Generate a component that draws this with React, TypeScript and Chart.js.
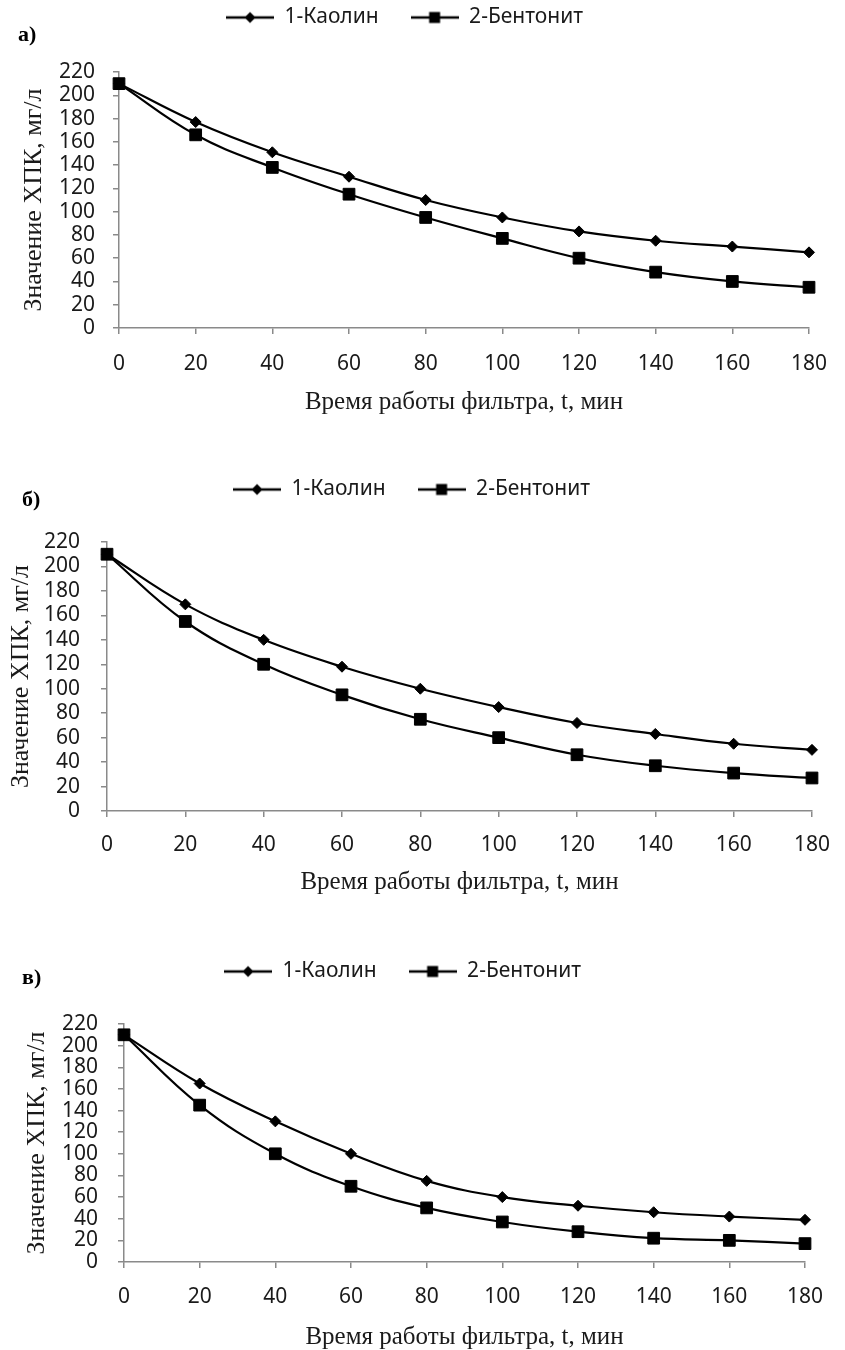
import React, { useEffect, useRef } from 'react';
import { Chart, registerables } from 'chart.js';

Chart.register(...registerables);

// ---- data ----
const minutes = [0, 20, 40, 60, 80, 100, 120, 140, 160, 180];
const seriesNames = ['1-Каолин', '2-Бентонит'];
const panelLabels = ['а)', 'б)', 'в)'];
const xTitle = 'Время работы фильтра, t, мин';
const yTitle = 'Значение ХПК, мг/л';

const kaolinA = [210, 177, 151, 130, 110, 95, 83, 75, 70, 65];
const bentonitA = [210, 166, 138, 115, 95, 77, 60, 48, 40, 35];
const kaolinB = [210, 169, 140, 118, 100, 85, 72, 63, 55, 50];
const bentonitB = [210, 155, 120, 95, 75, 60, 46, 37, 31, 27];
const kaolinV = [210, 165, 130, 100, 75, 60, 52, 46, 42, 39];
const bentonitV = [210, 145, 100, 70, 50, 37, 28, 22, 20, 17];

const yMin = 0;
const yMax = 220;
const yStep = 20;
const xMin = 0;
const xMax = 180;
const xStep = 20;

// ---- layout (per panel) ----
type PanelLayout = {
  top: number;
  height: number;
  left: number;
  right: number;
  chartTop: number;
  chartBottom: number;
  yTitleX: number;
  xTitleMid: number;
  xTickPad: number;
  yTickPad: number;
  labelTop: number;
  labelLeft: number;
};

const layouts: PanelLayout[] = [
  { top: 0, height: 440, left: 119, right: 809, chartTop: 72, chartBottom: 328, yTitleX: 34, xTitleMid: 402, xTickPad: 17, yTickPad: 18, labelTop: 23, labelLeft: 18 },
  { top: 472, height: 440, left: 107, right: 823, chartTop: 70, chartBottom: 339, yTitleX: 21, xTitleMid: 410, xTickPad: 15, yTickPad: 21, labelTop: 488, labelLeft: 22 },
  { top: 954, height: 396, left: 124, right: 805, chartTop: 70, chartBottom: 308, yTitleX: 37, xTitleMid: 383, xTickPad: 16, yTickPad: 20, labelTop: 966, labelLeft: 22 },
];

const panelData = [
  [kaolinA, bentonitA],
  [kaolinB, bentonitB],
  [kaolinV, bentonitV],
];

const W = 845;
const SANS = "'Noto Sans', 'Open Sans', sans-serif";
const SERIF = "'Liberation Serif', 'Times New Roman', serif";
const AXIS = '#8a8a8a';
const TEXT = '#1a1a1a';

function makeLegendIcon(kind: 'diamond' | 'square'): HTMLCanvasElement {
  const c = document.createElement('canvas');
  c.width = 48;
  c.height = 16;
  const ctx = c.getContext('2d')!;
  ctx.strokeStyle = '#000';
  ctx.lineWidth = 2.5;
  ctx.beginPath();
  ctx.moveTo(0, 8);
  ctx.lineTo(48, 8);
  ctx.stroke();
  ctx.fillStyle = '#000';
  if (kind === 'diamond') {
    ctx.beginPath();
    ctx.moveTo(24, 2.5);
    ctx.lineTo(29.5, 8);
    ctx.lineTo(24, 13.5);
    ctx.lineTo(18.5, 8);
    ctx.closePath();
    ctx.fill();
  } else {
    ctx.fillRect(18.5, 2.5, 11, 11);
  }
  return c;
}

function Panel({ idx }: { idx: number }) {
  const ref = useRef<HTMLCanvasElement | null>(null);
  const L = layouts[idx];
  const [kaolin, bentonit] = panelData[idx];

  useEffect(() => {
    if (!ref.current) return;
    const icons = [makeLegendIcon('diamond'), makeLegendIcon('square')];
    const tickFont = { family: SANS, size: 21 };
    const chart = new Chart(ref.current, {
      type: 'line',
      data: {
        datasets: [
          {
            label: seriesNames[0],
            data: minutes.map((m, i) => ({ x: m, y: kaolin[i] })),
            borderColor: '#000',
            backgroundColor: '#000',
            borderWidth: 2.2,
            pointStyle: 'rectRot',
            pointRadius: 5.5,
            pointBorderWidth: 1,
            pointBackgroundColor: '#000',
            pointBorderColor: '#000',
            tension: 0.4,
            clip: false,
          },
          {
            label: seriesNames[1],
            data: minutes.map((m, i) => ({ x: m, y: bentonit[i] })),
            borderColor: '#000',
            backgroundColor: '#000',
            borderWidth: 2.2,
            pointStyle: 'rect',
            pointRadius: 8.3,
            pointBorderWidth: 1,
            pointBackgroundColor: '#000',
            pointBorderColor: '#000',
            tension: 0.4,
            clip: false,
          },
        ],
      },
      options: {
        responsive: false,
        maintainAspectRatio: false,
        animation: false,
        devicePixelRatio: 1,
        layout: {
          padding: { top: -25, left: 0, right: W - L.right, bottom: 0 },
        },
        plugins: {
          tooltip: { enabled: false },
          legend: {
            display: true,
            position: 'top',
            align: 'center',
            labels: {
              usePointStyle: true,
              pointStyleWidth: 48,
              padding: 32,
              color: TEXT,
              font: { family: SANS, size: 21 },
              generateLabels: (chart: any) => {
                const base = (Chart as any).defaults.plugins.legend.labels.generateLabels(chart);
                return base.map((it: any, i: number) => ({ ...it, pointStyle: icons[i] }));
              },
            },
          },
          title: {
            display: true,
            text: '',
            position: 'top',
            weight: 500,
            padding: { top: L.chartTop - 39, bottom: 0 },
            font: { size: 1, lineHeight: 1 },
          } as any,
        },
        scales: {
          x: {
            type: 'linear',
            min: xMin,
            max: xMax,
            afterFit: (s: any) => {
              s.height = L.height - L.chartBottom;
            },
            ticks: {
              stepSize: xStep,
              autoSkip: false,
              color: TEXT,
              font: tickFont,
              padding: L.xTickPad,
              maxRotation: 0,
            },
            grid: {
              drawOnChartArea: false,
              drawTicks: true,
              tickLength: 6,
              color: AXIS,
              lineWidth: 1.5,
            },
            border: { display: true, color: AXIS, width: 1.5 },
            title: {
              display: true,
              text: xTitle,
              color: TEXT,
              font: { family: SERIF, size: 25, lineHeight: 1 },
              padding: { top: 0, bottom: L.height - L.xTitleMid - 12.5 },
            },
          },
          y: {
            type: 'linear',
            min: yMin,
            max: yMax,
            afterFit: (s: any) => {
              s.width = L.left;
            },
            ticks: {
              stepSize: yStep,
              autoSkip: false,
              color: TEXT,
              font: tickFont,
              padding: L.yTickPad,
            },
            grid: {
              drawOnChartArea: false,
              drawTicks: true,
              tickLength: 6,
              color: AXIS,
              lineWidth: 1.5,
            },
            border: { display: true, color: AXIS, width: 1.5 },
            title: {
              display: true,
              text: yTitle,
              color: TEXT,
              font: { family: SERIF, size: 26, lineHeight: 1 },
              padding: { top: L.yTitleX - 13, bottom: 0 },
            },
          },
        },
      } as any,
    });
    return () => chart.destroy();
  }, [idx]);

  return (
    <>
      <div
        style={{
          position: 'absolute',
          left: 0,
          top: L.top,
          width: W,
          height: L.height,
        }}
      >
        <canvas ref={ref} width={W} height={L.height} style={{ width: W, height: L.height, display: 'block' }} />
      </div>
      <div
        style={{
          position: 'absolute',
          left: L.labelLeft,
          top: L.labelTop,
          fontFamily: SERIF,
          fontWeight: 'bold',
          fontSize: 22,
          lineHeight: 1,
          color: '#000',
        }}
      >
        {panelLabels[idx]}
      </div>
    </>
  );
}

export default function App() {
  return (
    <div
      style={{
        position: 'absolute',
        left: 0,
        top: 0,
        width: W,
        height: 1350,
        background: '#fff',
        overflow: 'hidden',
      }}
    >
      <Panel idx={0} />
      <Panel idx={1} />
      <Panel idx={2} />
    </div>
  );
}
